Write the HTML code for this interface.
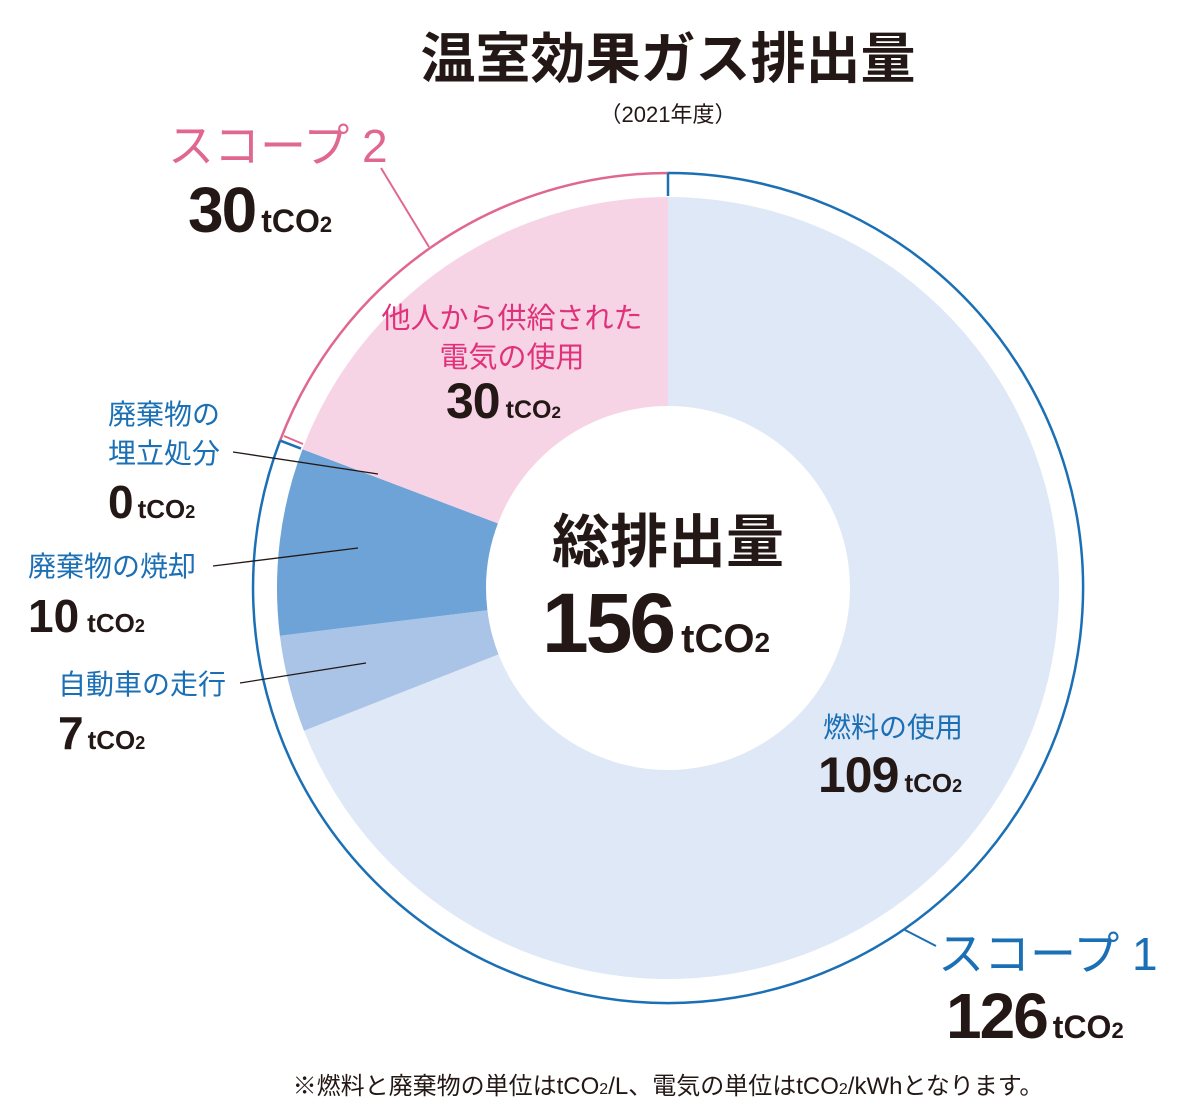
<!DOCTYPE html>
<html><head><meta charset="utf-8"><style>
body{margin:0;background:#fff;}
svg text{font-family:"Liberation Sans","Noto Sans CJK JP",sans-serif;}
tspan.u{letter-spacing:0}
</style></head><body>
<svg width="1200" height="1111" viewBox="0 0 1200 1111" xmlns="http://www.w3.org/2000/svg">
<rect width="1200" height="1111" fill="#fff"/>
<text x="668" y="78" text-anchor="middle" font-size="55" font-weight="bold" fill="#231815">温室効果ガス排出量</text>
<text x="668" y="122" text-anchor="middle" font-size="22" fill="#231815">（2021年度）</text>
<path d="M668,197 A391,391 0 1 1 304.0,730.7 L498.5,654.4 A182,182 0 1 0 668,406 Z" fill="#dfe8f6"/>
<path d="M304.0,730.7 A391,391 0 0 1 279.9,635.7 L487.4,610.2 A182,182 0 0 0 498.5,654.4 Z" fill="#a9c4e7"/>
<path d="M279.9,635.7 A391,391 0 0 1 302.5,449.2 L497.9,523.4 A182,182 0 0 0 487.4,610.2 Z" fill="#6da3d6"/>
<path d="M302.5,449.2 A391,391 0 0 1 668,197 L668,406 A182,182 0 0 0 497.9,523.4 Z" fill="#f7d4e5"/>
<path d="M668,173 A415,415 0 1 1 280.1,440.6" fill="none" stroke="#1a6fb5" stroke-width="2.5"/>
<path d="M280.1,440.6 A415,415 0 0 1 668,173" fill="none" stroke="#e06890" stroke-width="2.5"/>
<line x1="668" y1="173" x2="668" y2="196" stroke="#1a6fb5" stroke-width="2.5"/>
<line x1="280.1" y1="440.6" x2="301" y2="448.6" stroke="#1a6fb5" stroke-width="2.5"/>
<line x1="284" y1="436" x2="303" y2="444" stroke="#e06890" stroke-width="2"/>
<line x1="381" y1="168" x2="429" y2="247" stroke="#e06890" stroke-width="2"/>
<line x1="905" y1="930" x2="936" y2="946" stroke="#1a6fb5" stroke-width="2"/>
<line x1="233" y1="452" x2="378" y2="474" stroke="#231815" stroke-width="1.3"/>
<line x1="213" y1="566" x2="358" y2="548" stroke="#231815" stroke-width="1.3"/>
<line x1="240" y1="683" x2="366" y2="663" stroke="#231815" stroke-width="1.3"/>
<text x="168" y="162" font-size="46" fill="#e06890">スコープ 2</text>
<text x="188" y="232" font-size="64" font-weight="bold" fill="#231815" letter-spacing="-2">30<tspan class="u" font-size="32" dx="6">tCO</tspan><tspan class="u" font-size="22">2</tspan></text>
<text x="512" y="328" text-anchor="middle" font-size="29" fill="#e0327a">他人から供給された</text>
<text x="512" y="367" text-anchor="middle" font-size="29" fill="#e0327a">電気の使用</text>
<text x="446" y="418" font-size="50" font-weight="bold" fill="#231815" letter-spacing="-1">30<tspan class="u" font-size="25" dx="6">tCO</tspan><tspan class="u" font-size="17">2</tspan></text>
<text x="108" y="424" font-size="28" fill="#1a6fb5">廃棄物の</text>
<text x="108" y="463" font-size="28" fill="#1a6fb5">埋立処分</text>
<text x="108" y="518" font-size="46" font-weight="bold" fill="#231815">0<tspan class="u" font-size="26" dx="4">tCO</tspan><tspan class="u" font-size="18">2</tspan></text>
<text x="28" y="576" font-size="28" fill="#1a6fb5">廃棄物の焼却</text>
<text x="28" y="632" font-size="46" font-weight="bold" fill="#231815">10<tspan class="u" font-size="26" dx="8">tCO</tspan><tspan class="u" font-size="18">2</tspan></text>
<text x="58" y="694" font-size="28" fill="#1a6fb5">自動車の走行</text>
<text x="58" y="749" font-size="46" font-weight="bold" fill="#231815">7<tspan class="u" font-size="26" dx="4">tCO</tspan><tspan class="u" font-size="18">2</tspan></text>
<text x="668" y="562" text-anchor="middle" font-size="58" font-weight="bold" fill="#231815">総排出量</text>
<text x="542" y="652" font-size="84" font-weight="bold" fill="#231815" letter-spacing="-3">156<tspan class="u" font-size="40" dx="8">tCO</tspan><tspan class="u" font-size="28">2</tspan></text>
<text x="823" y="737" font-size="28" fill="#1a6fb5">燃料の使用</text>
<text x="818" y="792" font-size="50" font-weight="bold" fill="#231815" letter-spacing="-1">109<tspan class="u" font-size="26" dx="6">tCO</tspan><tspan class="u" font-size="18">2</tspan></text>
<text x="938" y="970" font-size="46" fill="#1a6fb5">スコープ 1</text>
<text x="946" y="1038" font-size="64" font-weight="bold" fill="#231815" letter-spacing="-2">126<tspan class="u" font-size="32" dx="6">tCO</tspan><tspan class="u" font-size="22">2</tspan></text>
<text x="668" y="1094" text-anchor="middle" font-size="24" fill="#231815">※燃料と廃棄物の単位はtCO<tspan font-size="16">2</tspan>/L、電気の単位はtCO<tspan font-size="16">2</tspan>/kWhとなります。</text>
</svg>
</body></html>
